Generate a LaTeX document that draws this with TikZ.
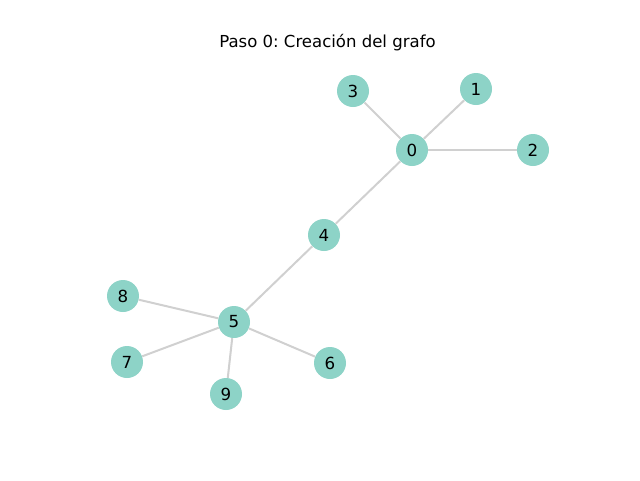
\documentclass[tikz,border=0pt]{standalone}
\usepackage{fontspec}
\setmainfont{DejaVu Sans}
\frenchspacing
\definecolor{nodecol}{HTML}{8DD3C7}
\definecolor{edgecol}{HTML}{D0D0D0}
\tikzset{
  vtx/.style={circle, fill=nodecol, minimum size=24pt, inner sep=0pt, font=\fontsize{12.5}{14}\selectfont},
  edge/.style={draw=edgecol, line width=1.5pt}
}
\begin{document}
\begin{tikzpicture}[x=0.75pt,y=-0.75pt]
\useasboundingbox (0,0) rectangle (640,480);
\node[font=\fontsize{12.4}{14}\selectfont] (title) at (327.5,43) {Paso 0: Creación del grafo};
\node[vtx] (n0) at (412,150) {0};
\node[vtx] (n1) at (476,89) {1};
\node[vtx] (n2) at (533,150) {2};
\node[vtx] (n3) at (353,91) {3};
\node[vtx] (n4) at (324,235) {4};
\node[vtx] (n5) at (234,322) {5};
\node[vtx] (n6) at (330,363) {6};
\node[vtx] (n7) at (127,362) {7};
\node[vtx] (n8) at (123,296) {8};
\node[vtx] (n9) at (226,394) {9};
\foreach \a/\b in {n0/n1,n0/n2,n0/n3,n0/n4,n4/n5,n5/n6,n5/n7,n5/n8,n5/n9}
  \draw[edge] (\a) -- (\b);
\end{tikzpicture}
\end{document}
